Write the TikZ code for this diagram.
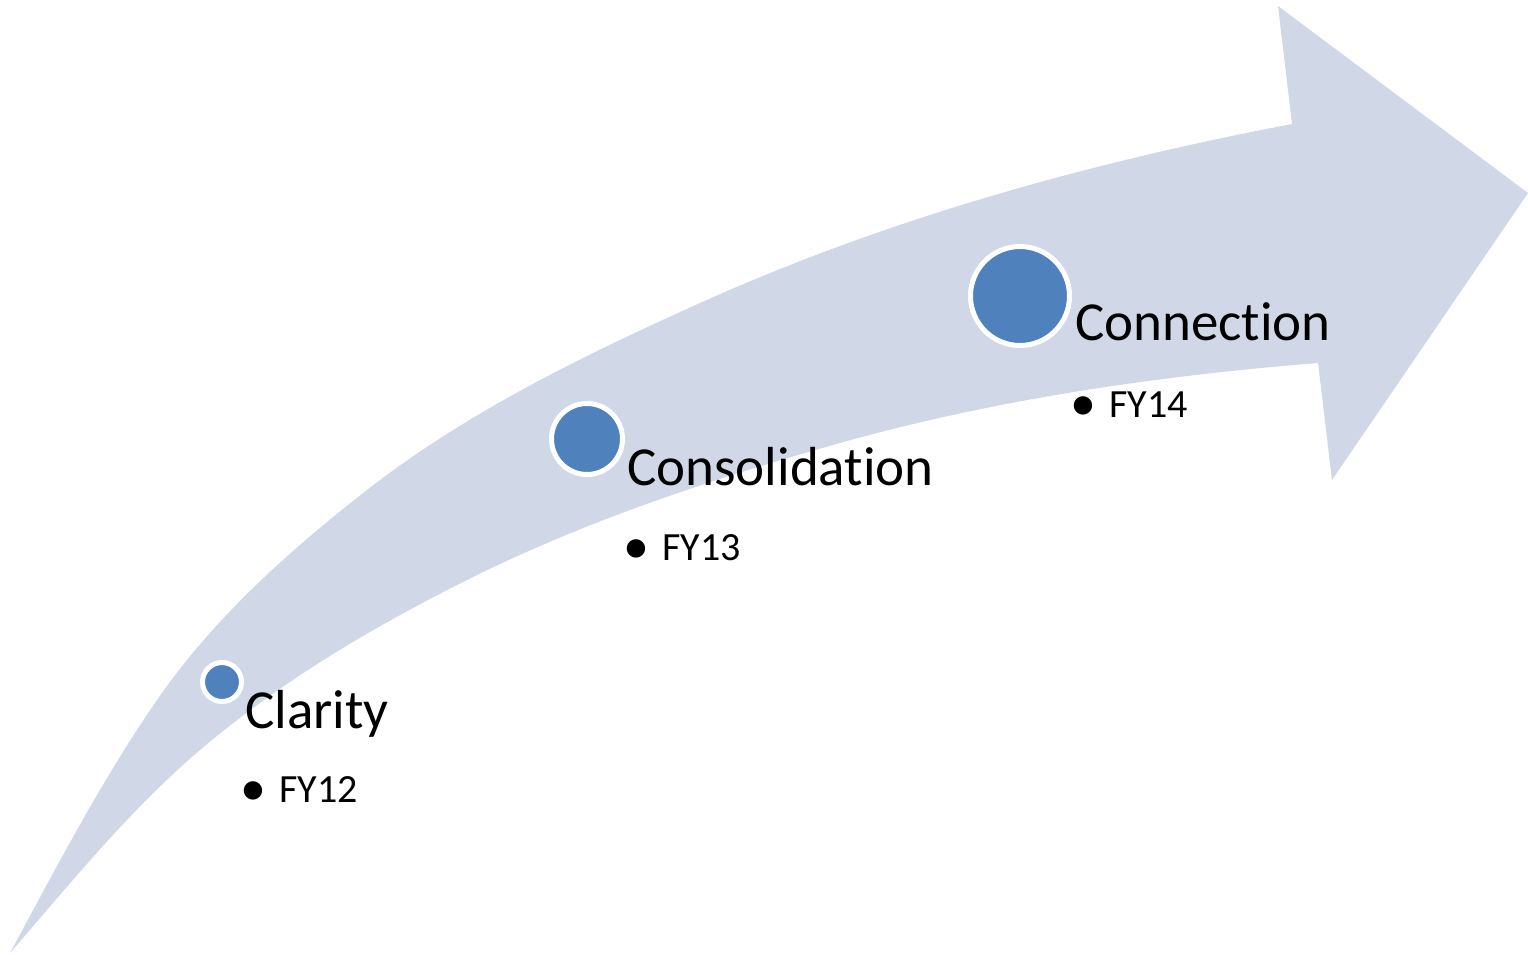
\documentclass[tikz,border=0pt]{standalone}
\usepackage{fontspec}
\setmainfont[Ligatures={NoCommon}]{Carlito}
\definecolor{arrowfill}{HTML}{D0D8E8}
\definecolor{dotblue}{HTML}{4F81BD}
\tikzset{
  stagedot/.style={circle, fill=dotblue, draw=white, line width=5pt, inner sep=0pt},
  headtext/.style={anchor=base west, inner sep=0pt, font=\fontsize{55}{66}\selectfont},
  itemtext/.style={anchor=base west, inner sep=0pt, font=\fontsize{40}{48}\selectfont},
}
\newcommand{\itemline}[1]{\makebox[35pt][l]{\hspace{-4pt}\raisebox{-3pt}{\scalebox{1.3}{\textbullet}}}#1}
\begin{document}
\begin{tikzpicture}[x=1pt,y=-1pt]
\useasboundingbox (0,0) rectangle (1528,959);
% big curved arrow
\fill[arrowfill]
  (10,953) .. controls (56.3,867.2) and (101.6,780.3) .. (157,700)
  .. controls (213.2,618.5) and (288.9,550.9) .. (367,490)
  .. controls (467.2,411.9) and (584.2,355.1) .. (700,303)
  .. controls (887.9,218.5) and (1089.7,162.5) .. (1292,124)
  -- (1278,6) -- (1528,193) -- (1332,480) -- (1318,363)
  .. controls (1157,375.9) and (995.5,399.4) .. (840,443)
  .. controls (712.4,478.8) and (585.5,520.8) .. (467,580)
  .. controls (372.7,627.2) and (280.4,681.6) .. (200,750)
  .. controls (129.4,810.1) and (70.8,883) .. (10,953)
  -- cycle;
% stage dots
\node[stagedot, minimum size=39pt] (d1) at (222,682) {};
\node[stagedot, minimum size=71pt] (d2) at (587,439) {};
\node[stagedot, minimum size=99pt] (d3) at (1020,296) {};
% headings
\node[headtext] (t1) at (245,728) {Clarity};
\node[headtext] (t2) at (627,485) {Consolidation};
\node[headtext] (t3) at (1075,340) {Connection};
% items
\node[itemtext] (i1) at (244,802) {\itemline{FY12}};
\node[itemtext] (i2) at (627,560) {\itemline{FY13}};
\node[itemtext] (i3) at (1074,417) {\itemline{FY14}};
\end{tikzpicture}
\end{document}
